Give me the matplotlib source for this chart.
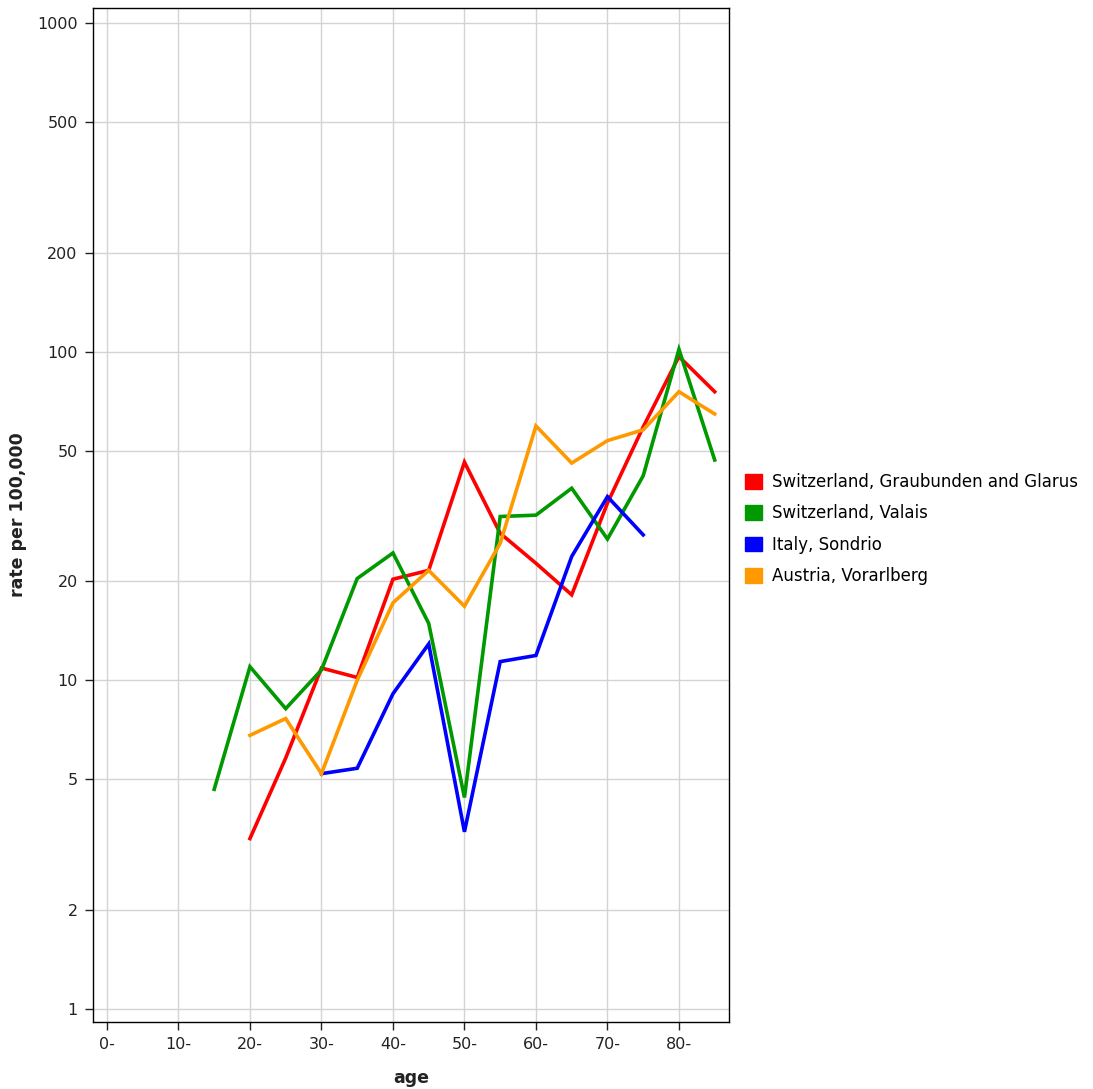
import numpy as np
import matplotlib.pyplot as plt
from matplotlib.patches import Patch

nan = np.nan
ages = ['0-', '5-', '10-', '15-', '20-', '25-', '30-', '35-', '40-',
        '45-', '50-', '55-', '60-', '65-', '70-', '75-', '80-', '85-']

graubunden = [nan, nan, nan, nan, 3.3, 5.8, 10.9, 10.2, 20.3,
              21.6, 46.1, 28.0, 22.7, 18.2, 34.6, 59.0, 96.6, 75.5]
valais = [nan, nan, nan, 4.66, 11.0, 8.2, 10.75, 20.4, 24.4,
          14.9, 4.4, 31.5, 31.8, 38.4, 26.9, 41.9, 101.6, 46.8]
sondrio = [nan, nan, nan, nan, nan, nan, 5.2, 5.4, 9.1,
           12.9, 3.46, 11.4, 11.9, 23.8, 36.2, 27.7, nan, nan]
vorarlberg = [nan, nan, nan, nan, 6.8, 7.65, 5.2, 10.0, 17.2,
              21.6, 16.8, 26.1, 59.4, 45.8, 53.6, 57.8, 75.5, 64.6]

series = [
    ('Switzerland, Graubunden and Glarus', graubunden, '#ff0000'),
    ('Switzerland, Valais', valais, '#009900'),
    ('Italy, Sondrio', sondrio, '#0000ff'),
    ('Austria, Vorarlberg', vorarlberg, '#ff9900'),
]

yticks = [1, 2, 5, 10, 20, 50, 100, 200, 500, 1000]

fig = plt.figure(figsize=(10.93, 10.89), dpi=100)
ax = fig.add_axes([93/1093, 1 - 1022/1089, (729-93)/1093, (1022-8)/1089])

x = np.arange(len(ages))
for name, vals, col in series:
    ax.plot(x, vals, color=col, lw=2.6, solid_joinstyle='miter')

ax.set_yscale('log')
ax.set_ylim(0.913, 1110)
ax.set_xlim(-0.39, 17.4)
ax.set_yticks(yticks)
ax.set_yticklabels([str(v) for v in yticks])
ax.yaxis.set_minor_locator(plt.NullLocator())
ax.set_xticks(x[::2])
ax.set_xticklabels(ages[::2])
ax.grid(True, color='#d4d4d4', lw=1)
ax.set_axisbelow(True)
ax.tick_params(direction='out', length=6, width=1, labelsize=11.5, colors='#222222', pad=5)
for s in ax.spines.values():
    s.set_color('black')
    s.set_linewidth(1)

ax.set_xlabel('age', fontsize=12.5, fontweight='bold', color='#222222', labelpad=12)
ax.set_ylabel('rate per 100,000', fontsize=12.5, fontweight='bold', color='#222222', labelpad=7)

handles = [Patch(facecolor=c, edgecolor=c, label=n) for n, _, c in series]
fig.legend(handles=handles, loc='upper left', bbox_to_anchor=(745/1093, 1 - 473/1089),
           frameon=False, fontsize=12, handlelength=1.0, handleheight=1.0,
           handletextpad=0.6, labelspacing=0.8, borderaxespad=0, borderpad=0)

fig.savefig('out.png', dpi=100)
